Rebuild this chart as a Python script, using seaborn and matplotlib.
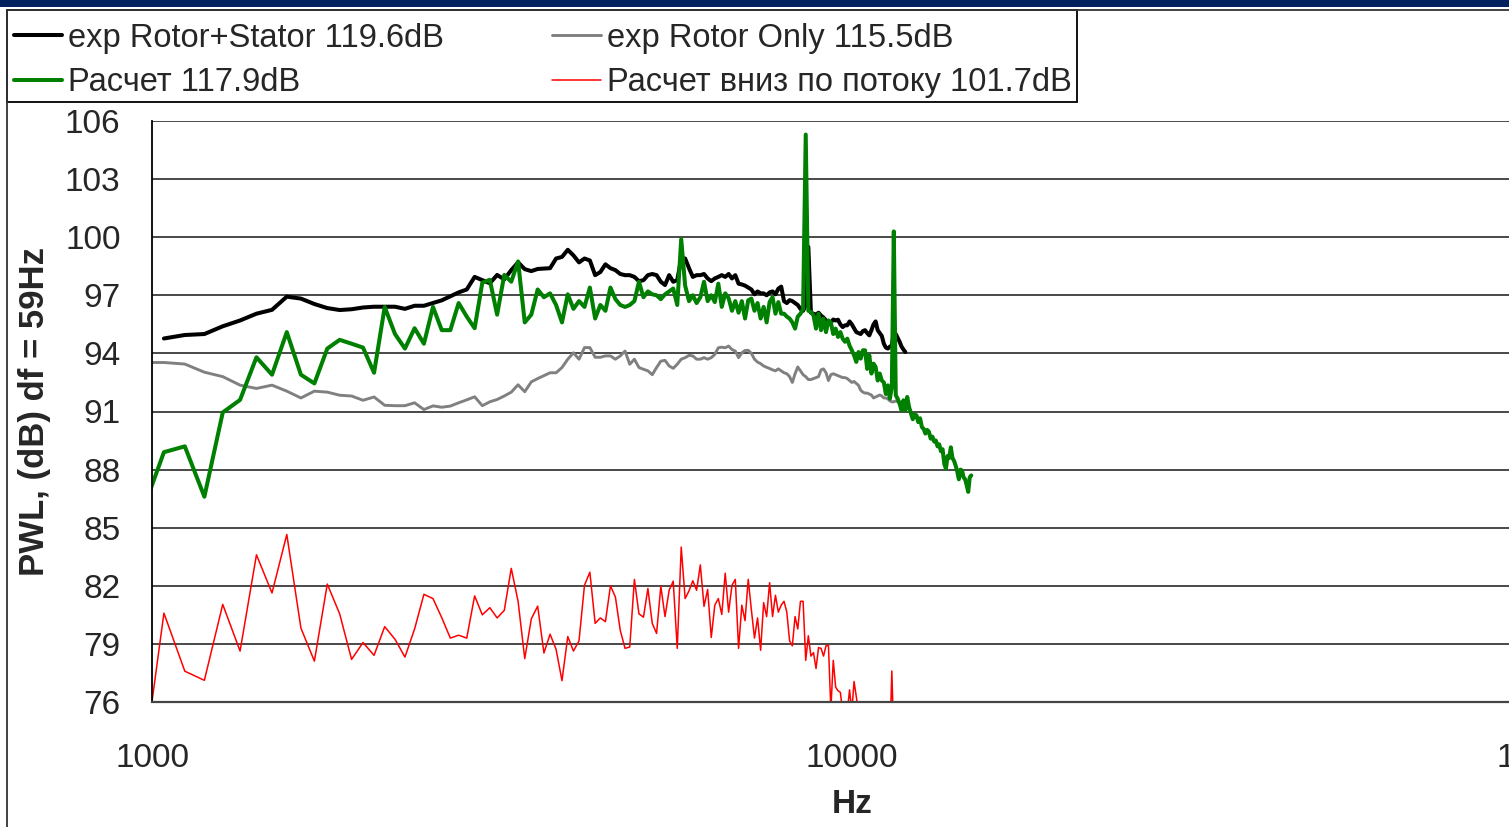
import numpy as np
import pandas as pd
import matplotlib
matplotlib.use("Agg")
import matplotlib.pyplot as plt
from matplotlib.lines import Line2D
from matplotlib.patches import Rectangle
from matplotlib.ticker import NullLocator, FixedLocator, FixedFormatter
import seaborn as sns

# ---------------- data (narrow-band spectra, bin k -> BIN_START_HZ + k*BIN_STEP_HZ) ----------------
BIN_START_HZ = 966
BIN_STEP_HZ = 74

nan = np.nan

black_db = [nan, 94.77, 94.95, 95.0, 95.4, 95.7, 96.05, 96.25, 96.93, 96.83,
            96.55, 96.34, 96.24, 96.28, 96.37, 96.41, 96.41, 96.41, 96.3, 96.46,
            96.46, 96.6, 96.74, 96.95, 97.15, 97.3, 97.95, 97.78, 97.62, 98.05,
            97.82, 98.3, 98.7, 98.35, 98.25, 98.36, 98.38, 98.4, 98.9, 98.98,
            99.35, 99.06, 98.7, 98.9, 98.8, 98.04, 98.2, 98.6, 98.4, 98.3,
            98.1, 98.04, 98.04, 97.95, 97.73, 97.78, 98.04, 98.1, 98.04, 97.7,
            97.53, 98.04, 97.7, 97.78, 98.9, 98.9, 98.4, 97.95, 98.04, 98.04,
            98.1, 97.87, 97.73, 97.87, 97.95, 98.04, 97.95, 98.1, 97.87, 98.04,
            97.6, 97.56, 97.5, 97.4, 97.3, 97.05, 97.2, 97.1, 97.1, 97.0,
            97.15, 97.2, 97.05, 97.34, 97.45, 96.7, 96.6, 96.75, 96.7, 96.6,
            96.5, 96.3, 96.2, 96.5, 99.5, 96.1, 96.05, 96.0, 96.1, 95.95,
            95.85, 95.7, 95.54, 95.6, 95.75, 95.7, 95.74, 95.5, 95.36, 95.45,
            95.45, 95.65, 95.5, 95.3, 95.1, 95.05, 95.0, 95.15, 95.2, 95.05,
            94.93, 95.2, 95.5, 95.65, 95.2, 95.05, 94.9, 94.5, 94.3, 94.25,
            94.35, 94.4, 95.1, 95.0, 94.8, 94.6, 94.35, 94.2, 94.07]

gray_db = [93.53, 93.53, 93.45, 93.03, 92.8, 92.36, 92.19, 92.36, 92.05, 91.7,
           92.05, 92.0, 91.84, 91.8, 91.58, 91.75, 91.32, 91.3, 91.3, 91.45,
           91.1, 91.29, 91.22, 91.28, 91.45, 91.6, 91.76, 91.3, 91.5, 91.62,
           91.8, 92.0, 92.38, 92.02, 92.53, 92.7, 92.85, 93.0, 93.0, 93.27,
           93.7, 94.03, 93.7, 94.3, 94.3, 93.8, 93.8, 93.87, 93.87, 93.7,
           93.87, 94.12, 93.44, 93.7, 93.27, 93.18, 93.1, 92.9, 93.27, 93.6,
           93.64, 93.35, 93.23, 93.44, 93.7, 93.78, 93.9, 93.87, 93.7, 93.7,
           93.78, 93.7, 93.78, 93.95, 94.29, 94.32, 94.29, 94.38, 94.2, 94.12,
           93.78, 94.03, 94.15, 94.16, 94.0, 93.7, 93.55, 93.47, 93.35, 93.28,
           93.22, 93.15, 93.1, 93.2, 93.1, 93.0, 92.95, 92.8, 92.5, 92.95,
           93.3, 93.1, 92.9, 92.8, 92.65, 92.65, 92.7, 92.75, 92.8, 93.15,
           93.2, 93.0, 92.6, 92.9, 92.95, 92.9, 92.85, 92.8, 92.75, 92.75,
           92.7, 92.6, 92.5, 92.55, 92.45, 92.35, 92.1, 92.0, 91.95, 91.95,
           91.9, 91.85, 91.7, 91.75, 91.8, 91.85, 91.8, 91.7, 91.7, 91.65,
           91.55, 91.5, 91.5, 91.55, 91.5, 91.45, 91.5]

green_db = [85.7, 88.9, 89.2, 86.6, 90.95, 91.6, 93.8, 92.9, 95.1, 92.9,
            92.45, 94.25, 94.7, 94.5, 94.3, 93.0, 96.4, 95.0, 94.25, 95.3,
            94.5, 96.4, 95.2, 95.2, 96.6, 95.9, 95.3, 97.65, 97.8, 96.0,
            98.05, 97.7, 98.75, 95.6, 96.0, 97.3, 96.9, 97.1, 96.5, 95.6,
            97.05, 96.3, 96.7, 96.4, 97.4, 95.8, 96.5, 96.2, 97.4, 96.8,
            96.5, 96.4, 96.5, 96.7, 97.7, 96.9, 97.2, 97.05, 97.0, 96.8,
            97.05, 97.2, 97.35, 96.5, 99.9, 97.5, 96.7, 97.0, 96.6, 96.9,
            97.7, 96.7, 97.0, 96.65, 97.6, 96.4, 97.1, 96.85, 96.2, 96.7,
            96.1, 96.7, 95.8, 96.74, 96.83, 96.2, 96.6, 95.8, 96.4, 95.6,
            96.65, 96.9, 96.05, 96.65, 96.05, 96.05, 95.9, 95.8, 95.6, 95.28,
            95.9, 96.05, 96.3, 105.3, 96.2, 96.14, 95.97, 95.28, 96.05, 95.2,
            95.8, 95.1, 95.7, 95.6, 95.0, 95.28, 94.85, 95.1, 94.76, 94.6,
            94.76, 94.4, 94.16, 93.9, 93.56, 94.07, 93.73, 94.16, 94.16, 93.2,
            93.9, 92.96, 93.47, 93.3, 92.6, 92.96, 92.6, 92.5, 91.9, 92.35,
            91.66, 92.27, 100.3, 91.84, 91.66, 91.4, 91.06, 91.58, 91.06, 91.75,
            91.23, 90.9, 90.6, 90.85, 90.8, 90.45, 90.65, 90.2, 90.1, 89.86,
            90.05, 89.95, 89.6, 89.7, 89.45, 89.5, 89.2, 89.3, 88.95, 89.05,
            88.3, 88.05, 88.7, 88.6, 89.15, 88.6, 88.45, 88.2, 87.9, 87.5,
            88.0, 87.95, 87.6, 87.5, 87.2, 86.85, 87.6, 87.7]

red_db = [72.0, 80.59, 77.59, 77.12, 81.04, 78.63, 83.6, 81.63, 84.65, 79.82,
          78.11, 82.09, 80.55, 78.2, 79.07, 78.41, 79.89, 79.24, 78.32, 79.77,
          81.56, 81.34, 80.35, 79.3, 79.45, 79.3, 81.48, 80.5, 80.87, 80.34,
          80.73, 82.9, 81.2, 78.24, 80.29, 80.95, 78.53, 79.5, 78.72, 77.1,
          79.38, 78.63, 79.16, 82.03, 82.7, 80.06, 80.34, 80.15, 82.0, 81.42,
          79.7, 78.77, 78.84, 82.33, 80.55, 80.38, 81.86, 80.06, 79.54, 81.98,
          80.41, 81.77, 82.24, 78.77, 84.0, 81.34, 81.74, 82.26, 81.77, 83.08,
          80.94, 81.81, 79.33, 81.0, 81.34, 80.52, 82.65, 80.64, 82.03, 82.33,
          78.77, 81.0, 80.2, 82.33, 80.76, 79.3, 80.34, 78.67, 81.13, 80.41,
          82.16, 80.41, 81.51, 80.64, 81.0, 81.2, 80.64, 79.16, 78.9, 80.41,
          79.77, 81.2, 81.2, 78.15, 79.42, 78.37, 78.55, 77.73, 78.81, 78.77,
          78.37, 78.9, 78.93, 75.6, 78.15, 76.77, 76.58, 76.5, 75.5, 75.0,
          75.5, 76.63, 75.5, 77.06, 76.28, 75.5, nan, nan, nan, nan,
          nan, nan, nan, nan, nan, nan, nan, nan, nan, nan,
          74.0, 77.6, 74.0]

series_labels = ["exp Rotor+Stator 119.6dB", "exp Rotor Only 115.5dB",
                 "Расчет 117.9dB", "Расчет вниз по потоку 101.7dB"]
series_values = [black_db, gray_db, green_db, red_db]

x_ticks = [1000, 10000, 100000]
x_tick_labels = ["1000", "10000", "100000"]
y_ticks = [76, 79, 82, 85, 88, 91, 94, 97, 100, 103, 106]
x_label = "Hz"
y_label = "PWL, (dB) df = 59Hz"

# ---------------- style ----------------
series_colors = ["#000000", "#808080", "#008000", "#ff0000"]
series_widths = [2.9, 2.1, 2.9, 1.1]

sns.set_style("white")
plt.rcParams["font.family"] = ["Liberation Sans", "DejaVu Sans"]

W, H = 1509, 827
fig = plt.figure(figsize=(W / 100, H / 100), dpi=100)
fig.patch.set_facecolor("white")

ax_left, ax_right, ax_top, ax_bottom = 152, 1552, 121, 702
ax = fig.add_axes([ax_left / W, 1 - ax_bottom / H, (ax_right - ax_left) / W, (ax_bottom - ax_top) / H])

for label, vals, col, lw in zip(series_labels, series_values, series_colors, series_widths):
    n = len(vals)
    df = pd.DataFrame({"Hz": BIN_START_HZ + BIN_STEP_HZ * np.arange(n), "dB": vals})
    df = df.dropna()
    sns.lineplot(data=df, x="Hz", y="dB", color=col, linewidth=lw, ax=ax,
                 sort=False, estimator=None, legend=False)

ax.set_xscale("log")
ax.set_xlim(1000, 100000)
ax.set_ylim(76, 106)
ax.xaxis.set_major_locator(FixedLocator(x_ticks))
ax.xaxis.set_major_formatter(FixedFormatter(x_tick_labels))
ax.xaxis.set_minor_locator(NullLocator())
ax.set_yticks(y_ticks)
ax.set_yticklabels([str(v) for v in y_ticks])

ax.grid(False)
for v in y_ticks:
    ax.axhline(v, color="#3a3a3a", lw=1.3, zorder=0.5)

for s in ["top", "right"]:
    ax.spines[s].set_visible(False)
ax.spines["left"].set_color("black")
ax.spines["left"].set_linewidth(1.3)
ax.spines["bottom"].set_color("#444444")
ax.spines["bottom"].set_linewidth(1.6)

ax.tick_params(axis="y", direction="out", length=8.6, width=1.2, color="black",
               labelsize=24, pad=14)
ax.tick_params(axis="x", direction="out", length=7.5, width=1.2, color="#444444",
               labelsize=24, pad=22)

ax.set_xlabel(x_label, fontsize=24, fontweight="bold")
ax.set_ylabel(y_label, fontsize=25, fontweight="bold")
ax.xaxis.set_label_coords(0.5, -0.149)
ax.yaxis.set_label_coords(-0.072, 0.5)

# legend (row-wise order: black, gray / green, red -> column-wise handles)
order = [0, 2, 1, 3]
handles = [Line2D([0], [0], color=series_colors[i], lw=series_widths[i]) for i in order]
labels = [series_labels[i] for i in order]
leg = ax.legend(handles, labels, ncol=2, loc="upper left",
                bbox_to_anchor=(7 / W, 1 - 16 / H), bbox_transform=fig.transFigure,
                borderaxespad=0, fontsize=23.5, handlelength=1.5, handletextpad=0.18,
                columnspacing=3.3, borderpad=0.2, labelspacing=0.42,
                frameon=False)

# legend frame, navy bar and chart-area border
fig.add_artist(Rectangle((7 / W, 1 - 102 / H), (1077 - 7) / W, (102 - 10) / H,
                         transform=fig.transFigure, facecolor="none",
                         edgecolor="black", lw=1.3))
fig.add_artist(Rectangle((0, 1 - 7 / H), 1, 7 / H, transform=fig.transFigure,
                         facecolor="#00215e", edgecolor="none"))
fig.add_artist(Line2D([7 / W, 7 / W], [0, 1 - 10 / H], transform=fig.transFigure,
                      color="#333333", lw=1.3))
fig.add_artist(Line2D([7 / W, 1], [1 - 10 / H, 1 - 10 / H], transform=fig.transFigure,
                      color="#333333", lw=1.3))

fig.savefig("out.png", dpi=100)
